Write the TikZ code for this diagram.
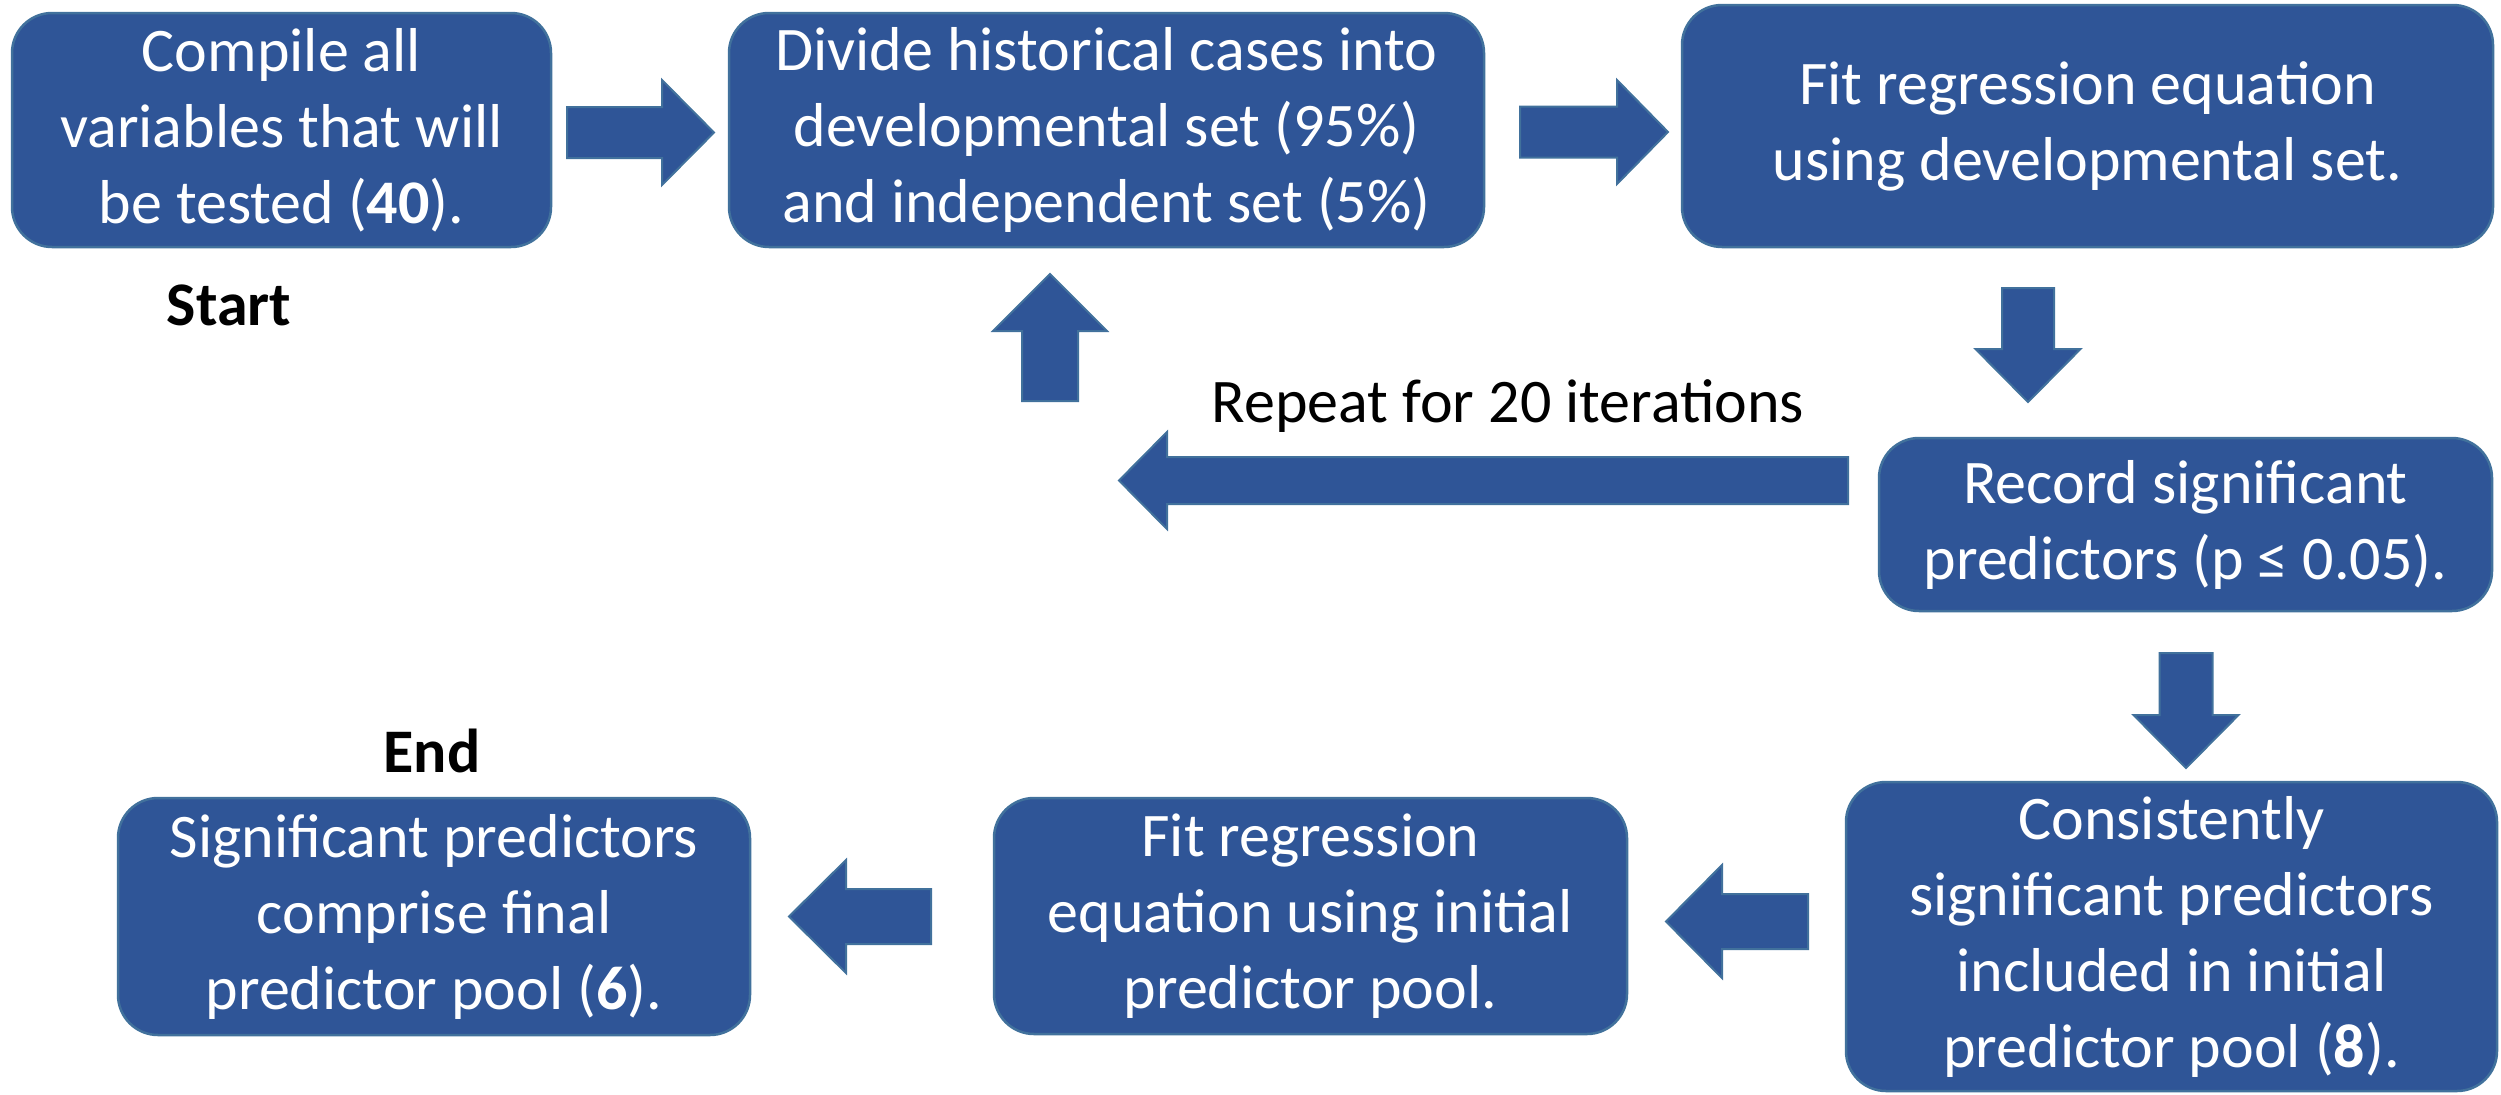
\documentclass[tikz,border=0pt]{standalone}
\usepackage{fontspec}
\setmainfont{Carlito}
\definecolor{boxfill}{HTML}{2F5597}
\definecolor{boxline}{HTML}{41719C}
\tikzset{
  box/.style={draw=boxline, fill=boxfill, line width=2.5pt, rounded corners=40pt,
    text=white, align=center, font=\fontsize{62}{76}\selectfont, inner sep=0pt},
  barrow/.style={draw=boxline, fill=boxfill, line width=2pt, line join=miter},
  lbl/.style={font=\fontsize{62}{76}\selectfont, inner sep=0pt, text=black}
}
% horizontal block arrow: tail x, head-base x, tip x, centre y, shaft half, head half
\newcommand{\myharrow}[6]{%
  \draw[barrow] (#1,#4-#5) -- (#2,#4-#5) -- (#2,#4-#6) -- (#3,#4) -- (#2,#4+#6) -- (#2,#4+#5) -- (#1,#4+#5) -- cycle;}
% vertical block arrow: centre x, tail y, head-base y, tip y, shaft half, head half
\newcommand{\myvarrow}[6]{%
  \draw[barrow] (#1-#5,#2) -- (#1-#5,#3) -- (#1-#6,#3) -- (#1,#4) -- (#1+#6,#3) -- (#1+#5,#3) -- (#1+#5,#2) -- cycle;}
\begin{document}
\begin{tikzpicture}[x=1pt,y=-1pt]
\useasboundingbox (0,0) rectangle (2501,1095);

% boxes
\node[box, minimum width=539pt, minimum height=234pt] (b1) at (281.5,130)
  {Compile all\\variables that will\\be tested (\textbf{40}).};
\node[box, minimum width=755pt, minimum height=234pt] (b2) at (1106.5,130)
  {Divide historical cases into\\developmental set (95\%)\\and independent set (5\%)};
\node[box, minimum width=811pt, minimum height=242pt] (b3) at (2087.5,126)
  {Fit regression equation\\using developmental set.};
\node[box, minimum width=613pt, minimum height=173pt] (b4) at (2185.5,524.5)
  {Record significant\\predictors (p ≤ 0.05).};
\node[box, minimum width=651pt, minimum height=309pt] (b5) at (2171.5,936.5)
  {Consistently\\significant predictors\\included in initial\\predictor pool (\textbf{8}).};
\node[box, minimum width=633pt, minimum height=236pt] (b6) at (1310.5,916)
  {Fit regression\\equation using initial\\predictor pool.};
\node[box, minimum width=632pt, minimum height=237pt] (b7) at (434,916.5)
  {Significant predictors\\comprise final\\predictor pool (\textbf{6}).};

% labels
\node[lbl, anchor=base] (start) at (229,325) {\textbf{Start}};
\node[lbl, anchor=base] (end) at (432,772) {\textbf{End}};
\node[lbl, anchor=base] (repeat) at (1508,422) {Repeat for 20 iterations};

% block arrows
\myharrow{567}{662}{714}{132.5}{25.5}{52.5}
\myharrow{1520}{1617}{1668}{132}{25.5}{52}
\myvarrow{2028}{288}{349}{402}{26}{52.5}
\myharrow{1848}{1167}{1119}{480.5}{23.5}{48.5}
\myvarrow{1050}{401}{331}{274}{28}{57}
\myvarrow{2186}{653}{715}{768}{26.5}{52.5}
\myharrow{1808}{1722}{1666}{921.5}{27.5}{56.5}
\myharrow{931}{846}{789}{916.5}{27.5}{56.5}
\end{tikzpicture}
\end{document}
